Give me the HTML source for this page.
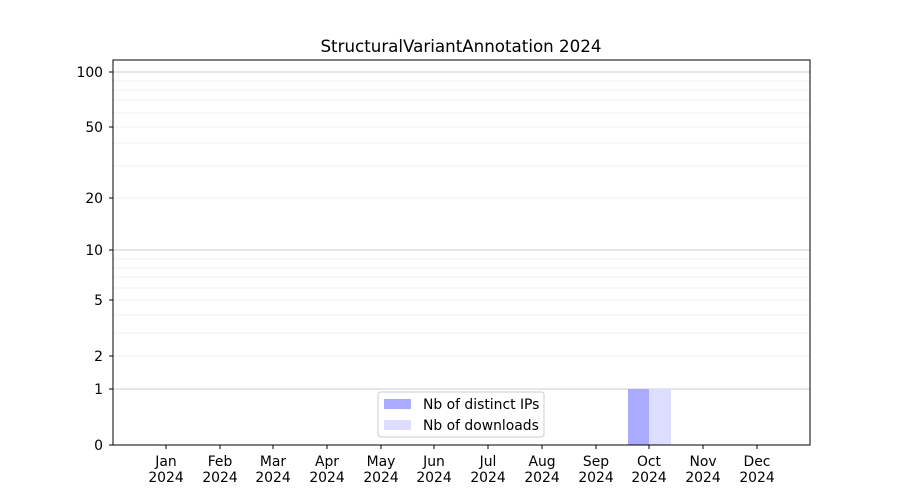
<!DOCTYPE html>
<html><head><meta charset="utf-8"><style>body{margin:0;background:#fff}svg{display:block}</style></head><body>
<svg width="900" height="500" xmlns="http://www.w3.org/2000/svg" font-family="DejaVu Sans, Liberation Sans, sans-serif">
<rect width="900" height="500" fill="#fff"/>
<g stroke="#ebebeb" stroke-width="0.8">
<line x1="113" x2="810" y1="356" y2="356"/><line x1="113" x2="810" y1="333" y2="333"/><line x1="113" x2="810" y1="315" y2="315"/><line x1="113" x2="810" y1="300" y2="300"/><line x1="113" x2="810" y1="288" y2="288"/><line x1="113" x2="810" y1="277" y2="277"/><line x1="113" x2="810" y1="268" y2="268"/><line x1="113" x2="810" y1="259" y2="259"/>
<line x1="113" x2="810" y1="198" y2="198"/><line x1="113" x2="810" y1="166" y2="166"/><line x1="113" x2="810" y1="143" y2="143"/><line x1="113" x2="810" y1="127" y2="127"/><line x1="113" x2="810" y1="113" y2="113"/><line x1="113" x2="810" y1="100" y2="100"/><line x1="113" x2="810" y1="90" y2="90"/><line x1="113" x2="810" y1="81" y2="81"/>
</g>
<g stroke="#cccccc" stroke-width="1">
<line x1="113" x2="810" y1="389" y2="389"/><line x1="113" x2="810" y1="250" y2="250"/><line x1="113" x2="810" y1="72" y2="72"/>
</g>
<rect x="628" y="389" width="21" height="56" fill="#aaaaff"/>
<rect x="649" y="389" width="22" height="56" fill="#ddddff"/>
<rect x="113" y="60" width="697" height="385" fill="none" stroke="#000" stroke-width="1"/>
<text x="461" y="52" font-size="16.7" text-anchor="middle">StructuralVariantAnnotation 2024</text>
<g font-size="13.9" text-anchor="end">
<text x="103" y="450">0</text><text x="103" y="394">1</text><text x="103" y="361">2</text><text x="103" y="305">5</text><text x="103" y="255">10</text><text x="103" y="203">20</text><text x="103" y="132">50</text><text x="103" y="77">100</text>
</g>
<g stroke="#000"><line x1="109" x2="113" y1="445" y2="445"/><line x1="109" x2="113" y1="389" y2="389"/><line x1="109" x2="113" y1="356" y2="356"/><line x1="109" x2="113" y1="300" y2="300"/><line x1="109" x2="113" y1="250" y2="250"/><line x1="109" x2="113" y1="198" y2="198"/><line x1="109" x2="113" y1="127" y2="127"/><line x1="109" x2="113" y1="72" y2="72"/></g>
<g font-size="13.9" text-anchor="middle">
<text x="166" y="466">Jan</text><text x="166" y="482">2024</text>
<text x="220" y="466">Feb</text><text x="220" y="482">2024</text>
<text x="273" y="466">Mar</text><text x="273" y="482">2024</text>
<text x="327" y="466">Apr</text><text x="327" y="482">2024</text>
<text x="381" y="466">May</text><text x="381" y="482">2024</text>
<text x="434" y="466">Jun</text><text x="434" y="482">2024</text>
<text x="488" y="466">Jul</text><text x="488" y="482">2024</text>
<text x="542" y="466">Aug</text><text x="542" y="482">2024</text>
<text x="596" y="466">Sep</text><text x="596" y="482">2024</text>
<text x="649" y="466">Oct</text><text x="649" y="482">2024</text>
<text x="703" y="466">Nov</text><text x="703" y="482">2024</text>
<text x="757" y="466">Dec</text><text x="757" y="482">2024</text>
</g>
<g stroke="#000"><line x1="166" x2="166" y1="445" y2="449"/><line x1="220" x2="220" y1="445" y2="449"/><line x1="273" x2="273" y1="445" y2="449"/><line x1="327" x2="327" y1="445" y2="449"/><line x1="381" x2="381" y1="445" y2="449"/><line x1="434" x2="434" y1="445" y2="449"/><line x1="488" x2="488" y1="445" y2="449"/><line x1="542" x2="542" y1="445" y2="449"/><line x1="596" x2="596" y1="445" y2="449"/><line x1="649" x2="649" y1="445" y2="449"/><line x1="703" x2="703" y1="445" y2="449"/><line x1="757" x2="757" y1="445" y2="449"/></g>
<rect x="378" y="392" width="166" height="45" rx="3" fill="#fff" fill-opacity="0.8" stroke="#cccccc"/>
<rect x="384" y="399" width="27" height="10" fill="#aaaaff"/>
<rect x="384" y="420" width="27" height="10" fill="#ddddff"/>
<text x="423" y="409" font-size="13.9">Nb of distinct IPs</text>
<text x="423" y="430" font-size="13.9">Nb of downloads</text>
</svg>
</body></html>
